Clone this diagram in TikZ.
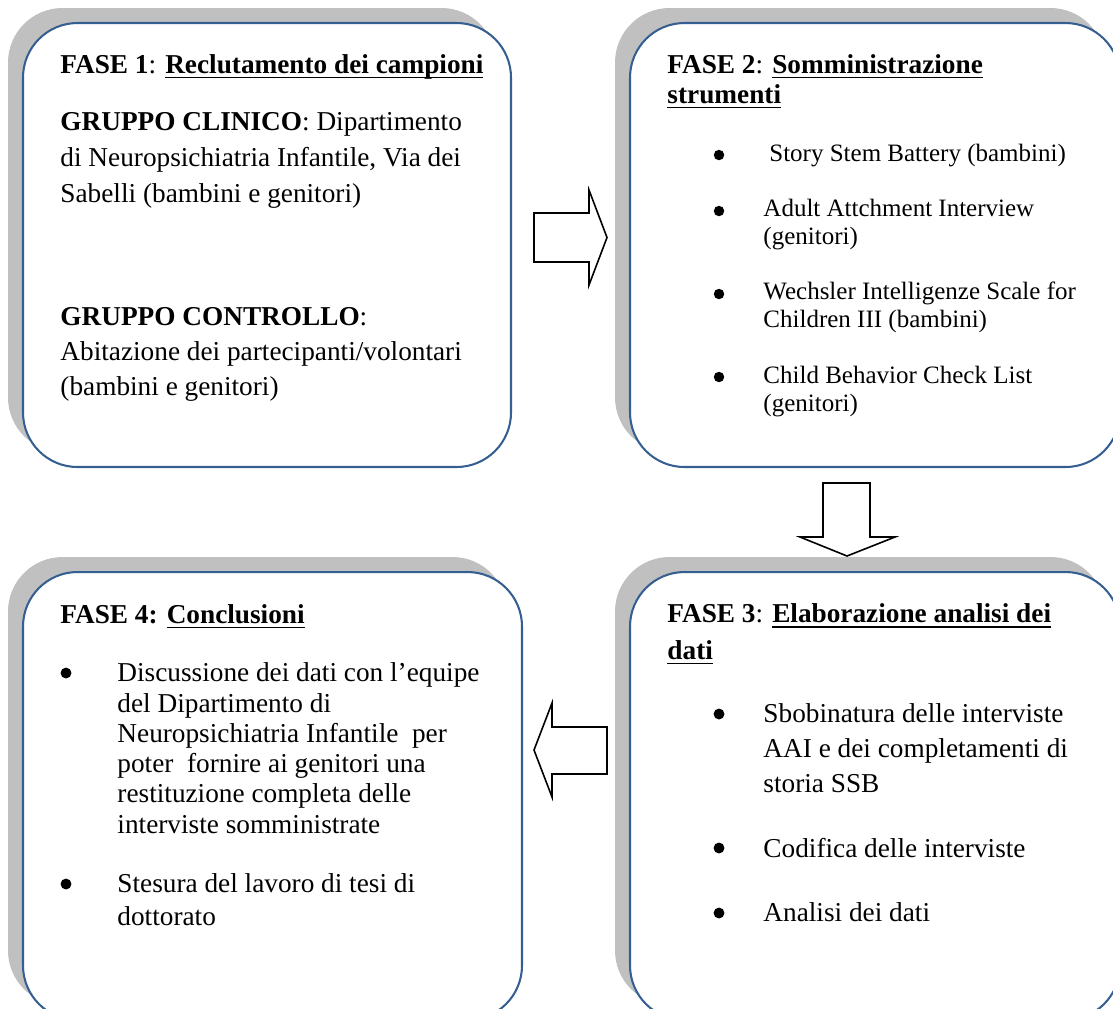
\documentclass[tikz,border=0pt]{standalone}
\usepackage{fontspec}
\setmainfont{Liberation Serif}
\usetikzlibrary{shadows}
\definecolor{boxblue}{HTML}{365F91}
\definecolor{shadowgray}{HTML}{C0C0C0}
\newcommand{\ulword}[1]{\setbox0\hbox{#1}\rlap{\rule[-2.2pt]{\wd0}{0.6pt}}\box0}
\begin{document}
\begin{tikzpicture}[x=0.44pt, y=-0.44pt,
    phasebox/.style={draw=boxblue, line width=0.9pt, fill=white, rounded corners=24pt,
      drop shadow={shadow xshift=-6.6pt, shadow yshift=6.6pt, fill=shadowgray, opacity=1}},
    body/.style={anchor=base west, inner sep=0pt, align=left, font=\fontsize{12}{15.8}\selectfont},
    listsmall/.style={body, font=\fontsize{11}{11.9}\selectfont},
    blockarrow/.style={draw=black, line width=0.7pt, fill=white, line join=miter},
    bulletdot/.style={fill=black}]
  \fill[white] (0,0) rectangle (1113,1008);
  \path[use as bounding box] (0,0) rectangle (1113,1008);
  \clip (0,0) rectangle (1113,1008);

  % the four phases
  \node[phasebox, minimum width=214.72pt, minimum height=195.36pt] (f1) at (267,245) {};
  \node[phasebox, minimum width=215.6pt, minimum height=195.36pt] (f2) at (875,245) {};
  \node[phasebox, minimum width=215.6pt, minimum height=197.12pt] (f3) at (875,796) {};
  \node[phasebox, minimum width=219.56pt, minimum height=197.12pt] (f4) at (272.5,796) {};

  % fase 1 (multi-line nodes sit on their last line)
  \node[body] (f1head) at (60,73) {\textbf{FASE 1}: \textbf{\ulword{Reclutamento dei campioni}}};
  \node[body, font=\fontsize{12}{15.8}\selectfont] (f1clin) at (60,202)
    {\textbf{GRUPPO CLINICO}: Dipartimento\\di Neuropsichiatria Infantile, Via dei\\Sabelli (bambini e genitori)};
  \node[body, font=\fontsize{12}{15.4}\selectfont] (f1ctrl) at (60,395)
    {\textbf{GRUPPO CONTROLLO}:\\Abitazione dei partecipanti/volontari\\(bambini e genitori)};

  % fase 2
  \node[body, font=\fontsize{12}{13.2}\selectfont] (f2head) at (667,103)
    {\textbf{FASE 2}: \textbf{\ulword{Somministrazione}}\\\textbf{\ulword{strumenti}}};
  \node[listsmall] (f2ssb) at (763,161) {\hspace{2.6pt}Story Stem Battery (bambini)};
  \node[listsmall] (f2aai) at (763,244) {Adult Attchment Interview\\(genitori)};
  \node[listsmall] (f2wisc) at (763,327) {Wechsler Intelligenze Scale for\\Children III (bambini)};
  \node[listsmall] (f2cbcl) at (763,411) {Child Behavior Check List\\(genitori)};
  \foreach \y in {155,211,294,377}
    \fill[bulletdot] (719,\y) circle[radius=2.3pt];

  % fase 3
  \node[body, font=\fontsize{12}{16}\selectfont] (f3head) at (667,659)
    {\textbf{FASE 3}: \textbf{\ulword{Elaborazione analisi dei}}\\\textbf{\ulword{dati}}};
  \node[body, font=\fontsize{12}{15.4}\selectfont] (f3sbob) at (763,792)
    {Sbobinatura delle interviste\\AAI e dei completamenti di\\storia SSB};
  \node[body] (f3cod) at (763,857) {Codifica delle interviste};
  \node[body] (f3an) at (763,921) {Analisi dei dati};
  \foreach \y in {714,848,913}
    \fill[bulletdot] (719,\y) circle[radius=2.4pt];

  % fase 4
  \node[body] (f4head) at (60,623) {\textbf{FASE 4: \ulword{Conclusioni}}};
  \node[body, font=\fontsize{12}{13.3}\selectfont] (f4disc) at (117,833)
    {Discussione dei dati con l’equipe\\del Dipartimento di\\Neuropsichiatria Infantile\ \ per\\poter\ \ fornire ai genitori una\\restituzione completa delle\\interviste somministrate};
  \node[body, font=\fontsize{12}{14.1}\selectfont] (f4tesi) at (117,925)
    {Stesura del lavoro di tesi di\\dottorato};
  \foreach \y in {673,884}
    \fill[bulletdot] (66,\y) circle[radius=2.4pt];

  % block arrows
  \draw[blockarrow] (534,213) -- (589,213) -- (589,190) -- (607,237.5)
    -- (589,285) -- (589,262) -- (534,262) -- cycle;
  \draw[blockarrow] (823,483) -- (870,483) -- (870,537) -- (895,537)
    -- (847,556) -- (800,537) -- (823,537) -- cycle;
  \draw[blockarrow] (607,727) -- (552,727) -- (552,703) -- (534,750)
    -- (552,797) -- (552,774) -- (607,774) -- cycle;
\end{tikzpicture}
\end{document}
